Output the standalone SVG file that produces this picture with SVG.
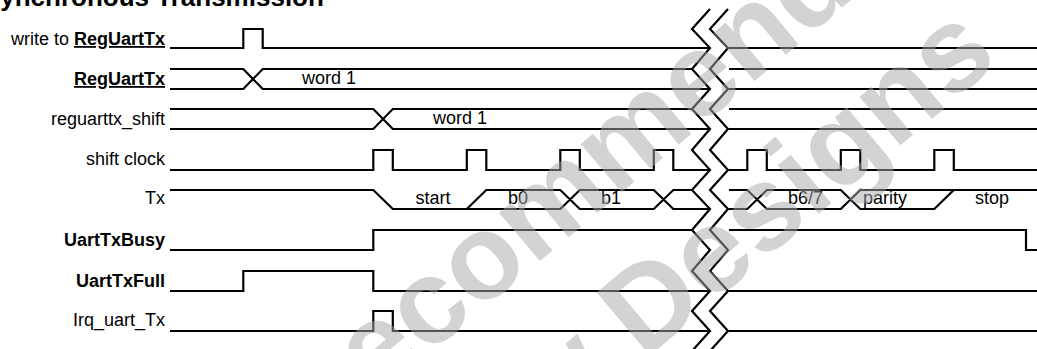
<svg xmlns="http://www.w3.org/2000/svg" width="1037" height="349" viewBox="0 0 1037 349">
<style>
.w{fill:none;stroke:#000;stroke-width:2.2;stroke-linejoin:miter;stroke-linecap:butt}
.z{fill:none;stroke:#000;stroke-width:2.2;stroke-linejoin:miter}
text{font-family:"Liberation Sans",Arial,Helvetica,sans-serif;font-size:18px;fill:#000}
.l{text-anchor:end}
.b{font-weight:bold}
.u{text-decoration:underline}
.m{text-anchor:middle}
.wm{font-size:120px;font-weight:bold;fill:#a8a8a8;opacity:0.5}
</style>
<rect width="1037" height="349" fill="#fff"/>
<text x="-33" y="5.5" style="font-size:26px;font-weight:bold">Asynchronous Transmission</text>
<g id="sig-write">
<text class="l" x="165" y="45">write to <tspan class="b u">RegUartTx</tspan></text>
<path class="w" d="M170,48 H243.3 V29 H262.7 V48 H710 M729,48 H1037"/>
</g>
<g id="sig-reguarttx">
<text class="l b u" x="165" y="85">RegUartTx</text>
<path class="w" d="M170,69 H243.3 L262.7,89 H710 M170,89 H243.3 L262.7,69 H692 M729,69 H1037 M729,89 H1037"/>
<text class="m" x="329" y="83.5">word 1</text>
</g>
<g id="sig-shift">
<text class="l" x="165" y="125">reguarttx_shift</text>
<path class="w" d="M170,109 H373.3 L392.8,129 H710 M170,129 H373.3 L392.8,109 H692 M729,109 H1037 M729,129 H1037"/>
<text class="m" x="460" y="124">word 1</text>
</g>
<g id="sig-clock">
<text class="l" x="165" y="165">shift clock</text>
<path class="w" d="M170,170 H373.3 V150 H392.8 V170 H466.8 V150 H486.3 V170 H560.3 V150 H579.8 V170 H653.8 V150 H673.3 V170 H710 M729,170 H747.3 V150 H766.8 V170 H840.8 V150 H860.3 V170 H934.3 V150 H953.8 V170 H1037"/>
</g>
<g id="sig-tx">
<text class="l" x="165" y="204">Tx</text>
<path class="w" d="M170,190 H373.3 L392.8,209 H466.8 L486.3,190 H560.3 L579.8,209 H653.8 L673.3,190 H692 M466.8,209 H560.3 L579.8,190 H653.8 L673.3,209 H710 M729,190 H747.3 L766.8,209 H840.8 L860.3,190 H1037 M729,209 H747.3 L766.8,190 H840.8 L860.3,209 H934.3 L953.8,190"/>
<text class="m" x="433" y="204">start</text>
<text class="m" x="518" y="204">b0</text>
<text class="m" x="611" y="204">b1</text>
<text class="m" x="805.5" y="204">b6/7</text>
<text class="m" x="885" y="204">parity</text>
<text class="m" x="992" y="204">stop</text>
</g>
<g id="sig-busy">
<text class="l b" x="165" y="246">UartTxBusy</text>
<path class="w" d="M170,250 H373.3 V230 H692 M729,230 H1026 V250 H1037"/>
</g>
<g id="sig-full">
<text class="l b" x="165" y="287">UartTxFull</text>
<path class="w" d="M170,291 H243.3 V271 H373.3 V291 H710 M729,291 H1037"/>
</g>
<g id="sig-irq">
<text class="l" x="165" y="326">Irq_uart_Tx</text>
<path class="w" d="M170,331 H373.3 V311 H392.8 V331 H710 M729,331 H1037"/>
</g>
<g id="connectors">
<polyline class="z" points="710,9 692,29 710,48 692,69 710,89 692,109 710,129 692,150 710,170 692,190 710,209 692,230 710,250 692,271 710,291 692,311 710,331 692,351"/>
<polyline class="z" points="728,9 710,29 728,48 710,69 728,89 710,109 728,129 710,150 728,170 710,190 728,209 710,230 728,250 710,271 728,291 710,311 728,331 710,351"/>
</g>
<g id="watermark">
<text class="wm" x="130" y="605" transform="rotate(-40 130 605)">Not Recommended</text>
<text class="wm" x="281" y="665" transform="rotate(-40 281 665)">for New Designs</text>
</g>
</svg>
